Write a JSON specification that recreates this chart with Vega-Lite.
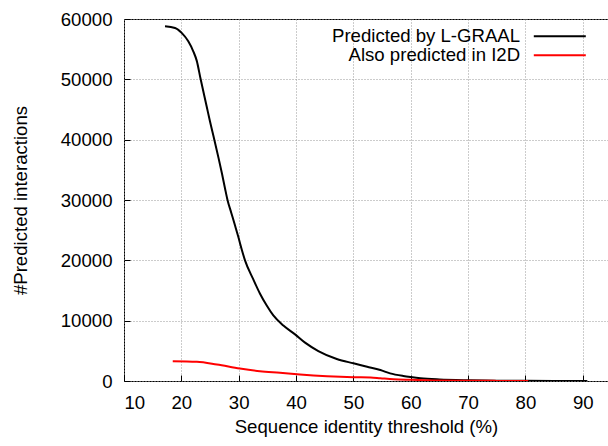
{
  "$schema": "https://vega.github.io/schema/vega-lite/v6.json",
  "width": 484,
  "height": 362,
  "autosize": {"type": "none"},
  "padding": {"left": 124, "top": 19, "right": 0, "bottom": 65},
  "background": "#ffffff",
  "config": {
    "font": "Liberation Sans",
    "view": {"stroke": "#000000", "strokeWidth": 1},
    "axis": {
      "domain": false,
      "grid": true,
      "gridColor": "#999999",
      "gridDash": [1, 2],
      "gridWidth": 1,
      "ticks": true,
      "tickColor": "#000000",
      "tickSize": -6,
      "tickWidth": 1,
      "labelFont": "Liberation Sans",
      "labelFontSize": 18.6,
      "labelColor": "#000000",
      "titleFont": "Liberation Sans",
      "titleFontSize": 18.6,
      "titleFontWeight": "normal",
      "titleColor": "#000000"
    }
  },
  "data": {
    "values": [
      {"series": "Predicted by L-GRAAL", "threshold": 17.15, "count": 58790},
      {"series": "Predicted by L-GRAAL", "threshold": 18.9, "count": 58520},
      {"series": "Predicted by L-GRAAL", "threshold": 20.06, "count": 57700},
      {"series": "Predicted by L-GRAAL", "threshold": 21.21, "count": 56300},
      {"series": "Predicted by L-GRAAL", "threshold": 22.08, "count": 54650},
      {"series": "Predicted by L-GRAAL", "threshold": 22.68, "count": 53100},
      {"series": "Predicted by L-GRAAL", "threshold": 23.37, "count": 50000},
      {"series": "Predicted by L-GRAAL", "threshold": 24.42, "count": 45500},
      {"series": "Predicted by L-GRAAL", "threshold": 25.0, "count": 43000},
      {"series": "Predicted by L-GRAAL", "threshold": 25.75, "count": 40000},
      {"series": "Predicted by L-GRAAL", "threshold": 26.5, "count": 36900},
      {"series": "Predicted by L-GRAAL", "threshold": 27.1, "count": 34300},
      {"series": "Predicted by L-GRAAL", "threshold": 27.6, "count": 32000},
      {"series": "Predicted by L-GRAAL", "threshold": 28.05, "count": 30000},
      {"series": "Predicted by L-GRAAL", "threshold": 28.7, "count": 27900},
      {"series": "Predicted by L-GRAAL", "threshold": 29.35, "count": 25800},
      {"series": "Predicted by L-GRAAL", "threshold": 29.93, "count": 23900},
      {"series": "Predicted by L-GRAAL", "threshold": 30.53, "count": 21800},
      {"series": "Predicted by L-GRAAL", "threshold": 31.1, "count": 20000},
      {"series": "Predicted by L-GRAAL", "threshold": 32.55, "count": 16840},
      {"series": "Predicted by L-GRAAL", "threshold": 33.72, "count": 14460},
      {"series": "Predicted by L-GRAAL", "threshold": 34.89, "count": 12500},
      {"series": "Predicted by L-GRAAL", "threshold": 36.04, "count": 10860},
      {"series": "Predicted by L-GRAAL", "threshold": 37.79, "count": 9190},
      {"series": "Predicted by L-GRAAL", "threshold": 39.83, "count": 7730},
      {"series": "Predicted by L-GRAAL", "threshold": 41.57, "count": 6360},
      {"series": "Predicted by L-GRAAL", "threshold": 43.89, "count": 4970},
      {"series": "Predicted by L-GRAAL", "threshold": 47.1, "count": 3650},
      {"series": "Predicted by L-GRAAL", "threshold": 50.0, "count": 2930},
      {"series": "Predicted by L-GRAAL", "threshold": 52.4, "count": 2370},
      {"series": "Predicted by L-GRAAL", "threshold": 54.7, "count": 1820},
      {"series": "Predicted by L-GRAAL", "threshold": 56.4, "count": 1270},
      {"series": "Predicted by L-GRAAL", "threshold": 58.7, "count": 830},
      {"series": "Predicted by L-GRAAL", "threshold": 60.0, "count": 650},
      {"series": "Predicted by L-GRAAL", "threshold": 61.7, "count": 450},
      {"series": "Predicted by L-GRAAL", "threshold": 65.0, "count": 250},
      {"series": "Predicted by L-GRAAL", "threshold": 70.0, "count": 120},
      {"series": "Predicted by L-GRAAL", "threshold": 75.0, "count": 60},
      {"series": "Predicted by L-GRAAL", "threshold": 80.0, "count": 30},
      {"series": "Predicted by L-GRAAL", "threshold": 85.0, "count": 10},
      {"series": "Predicted by L-GRAAL", "threshold": 90.8, "count": 0},
      {"series": "Also predicted in I2D", "threshold": 18.5, "count": 3280},
      {"series": "Also predicted in I2D", "threshold": 22.7, "count": 3180},
      {"series": "Also predicted in I2D", "threshold": 26.2, "count": 2730},
      {"series": "Also predicted in I2D", "threshold": 30.2, "count": 2070},
      {"series": "Also predicted in I2D", "threshold": 33.7, "count": 1620},
      {"series": "Also predicted in I2D", "threshold": 37.2, "count": 1360},
      {"series": "Also predicted in I2D", "threshold": 40.7, "count": 1080},
      {"series": "Also predicted in I2D", "threshold": 45.4, "count": 800},
      {"series": "Also predicted in I2D", "threshold": 50.0, "count": 630},
      {"series": "Also predicted in I2D", "threshold": 53.0, "count": 580},
      {"series": "Also predicted in I2D", "threshold": 54.7, "count": 460},
      {"series": "Also predicted in I2D", "threshold": 57.0, "count": 300},
      {"series": "Also predicted in I2D", "threshold": 60.0, "count": 200},
      {"series": "Also predicted in I2D", "threshold": 64.0, "count": 100},
      {"series": "Also predicted in I2D", "threshold": 70.0, "count": 50},
      {"series": "Also predicted in I2D", "threshold": 75.0, "count": 20},
      {"series": "Also predicted in I2D", "threshold": 80.5, "count": 0}
    ]
  },
  "mark": {"type": "line", "strokeWidth": 2, "clip": true, "interpolate": "monotone"},
  "encoding": {
    "x": {
      "field": "threshold",
      "type": "quantitative",
      "scale": {"domain": [10, 94.4], "nice": false, "zero": false},
      "axis": {
        "title": "Sequence identity threshold (%)",
        "values": [10, 20, 30, 40, 50, 60, 70, 80, 90],
        "labelPadding": 18,
        "titlePadding": 6
      }
    },
    "y": {
      "field": "count",
      "type": "quantitative",
      "scale": {"domain": [0, 60000], "nice": false},
      "axis": {
        "title": "#Predicted interactions",
        "values": [0, 10000, 20000, 30000, 40000, 50000, 60000],
        "format": "d",
        "labelPadding": 18,
        "titlePadding": 30
      }
    },
    "color": {
      "field": "series",
      "type": "nominal",
      "scale": {
        "domain": ["Predicted by L-GRAAL", "Also predicted in I2D"],
        "range": ["#000000", "#ff0000"]
      },
      "legend": {
        "orient": "none",
        "legendX": 426.5,
        "legendY": 8,
        "title": null,
        "symbolType": "M-5.2,0H5.2",
        "symbolSize": 100,
        "symbolStrokeWidth": 2,
        "symbolOffset": 0,
        "labelAlign": "right",
        "labelBaseline": "middle",
        "labelOffset": -49,
        "labelFontSize": 18.6,
        "labelFont": "Liberation Sans",
        "labelColor": "#000000",
        "labelLimit": 0,
        "rowPadding": 0,
        "padding": 0
      }
    }
  }
}
